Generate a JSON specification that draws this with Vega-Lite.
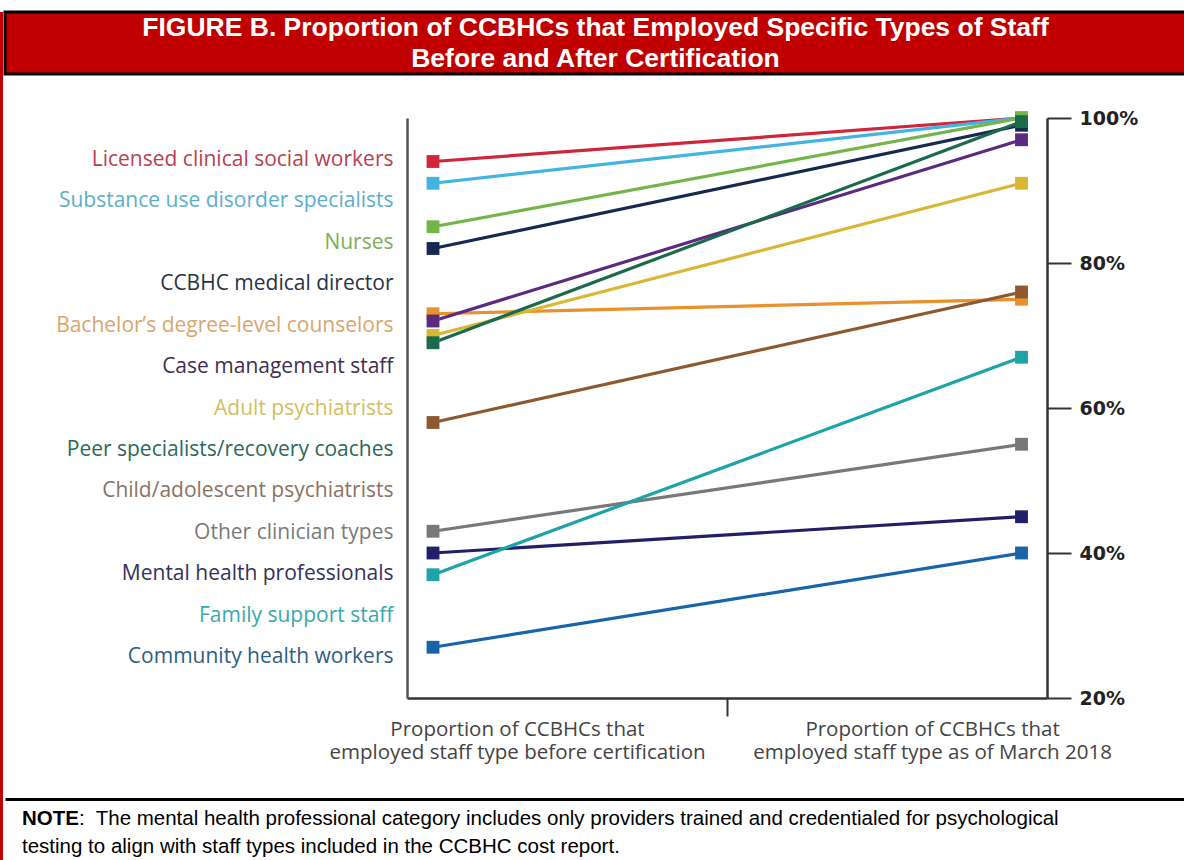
{
  "$schema": "https://vega.github.io/schema/vega-lite/v6.json",
  "padding": {"top": 10, "left": 0, "right": 0, "bottom": 0},
  "background": "white",
  "config": {"view": {"stroke": null}},
  "spacing": 0,
  "hconcat": [
    {
      "width": 3,
      "height": 850,
      "data": {"values": [{"k": 1}]},
      "mark": {"type": "rect", "color": "#C00000"},
      "encoding": {}
    },
    {
      "spacing": 33,
      "vconcat": [
        {
          "width": 1181,
          "height": 62,
          "view": {"fill": "#C00000", "stroke": "#000000", "strokeWidth": 3},
          "data": {"values": [
            {"line": 1, "text": "FIGURE B. Proportion of CCBHCs that Employed Specific Types of Staff"},
            {"line": 2, "text": "Before and After Certification"}
          ]},
          "mark": {"type": "text", "font": "Liberation Sans", "fontSize": 26.5, "fontWeight": "bold", "color": "#FFFFFF"},
          "encoding": {
            "y": {"field": "line", "type": "ordinal", "scale": {"type": "point", "padding": 0.5}, "axis": null},
            "text": {"field": "text"}
          }
        },
        {
          "spacing": 0,
          "hconcat": [
            {
              "width": 50,
              "height": 648,
              "data": {"values": [{"k": 1}]},
              "mark": {"type": "rect", "opacity": 0},
              "encoding": {}
            },
            {
              "width": 640,
              "height": 580,
              "data": {"values": [
                {"staff": "Licensed clinical social workers", "stage": 0, "pct": 94},
                {"staff": "Licensed clinical social workers", "stage": 1, "pct": 100},
                {"staff": "Substance use disorder specialists", "stage": 0, "pct": 91},
                {"staff": "Substance use disorder specialists", "stage": 1, "pct": 100},
                {"staff": "Nurses", "stage": 0, "pct": 85},
                {"staff": "Nurses", "stage": 1, "pct": 100},
                {"staff": "CCBHC medical director", "stage": 0, "pct": 82},
                {"staff": "CCBHC medical director", "stage": 1, "pct": 99},
                {"staff": "Bachelor’s degree-level counselors", "stage": 0, "pct": 73},
                {"staff": "Bachelor’s degree-level counselors", "stage": 1, "pct": 75},
                {"staff": "Case management staff", "stage": 0, "pct": 72},
                {"staff": "Case management staff", "stage": 1, "pct": 97},
                {"staff": "Adult psychiatrists", "stage": 0, "pct": 70},
                {"staff": "Adult psychiatrists", "stage": 1, "pct": 91},
                {"staff": "Peer specialists/recovery coaches", "stage": 0, "pct": 69},
                {"staff": "Peer specialists/recovery coaches", "stage": 1, "pct": 99.5},
                {"staff": "Child/adolescent psychiatrists", "stage": 0, "pct": 58},
                {"staff": "Child/adolescent psychiatrists", "stage": 1, "pct": 76},
                {"staff": "Other clinician types", "stage": 0, "pct": 43},
                {"staff": "Other clinician types", "stage": 1, "pct": 55},
                {"staff": "Mental health professionals", "stage": 0, "pct": 40},
                {"staff": "Mental health professionals", "stage": 1, "pct": 45},
                {"staff": "Family support staff", "stage": 0, "pct": 37},
                {"staff": "Family support staff", "stage": 1, "pct": 67},
                {"staff": "Community health workers", "stage": 0, "pct": 27},
                {"staff": "Community health workers", "stage": 1, "pct": 40}
              ]},
              "resolve": {
                "scale": {"y": "independent"},
                "axis": {"y": "independent", "x": "independent"}
              },
              "layer": [
                {
                  "mark": {"type": "point", "opacity": 0},
                  "encoding": {
                    "x": {
                      "field": "stage", "type": "quantitative",
                      "scale": {"domain": [-0.0442, 1.0433], "nice": false, "zero": false},
                      "axis": {
                        "orient": "bottom", "values": [0.1427, 0.848], "ticks": false, "domain": false,
                        "title": null, "grid": false, "labelOverlap": false, "labelLimit": 600,
                        "labelExpr": "datum.value < 0.5 ? 'employed staff type before certification' : 'employed staff type as of March 2018'",
                        "labelFont": "Open Sans", "labelFontSize": 20.5, "labelColor": "#444444",
                        "labelPadding": 44
                      }
                    },
                    "y": {
                      "field": "staff", "type": "nominal",
                      "scale": {"type": "point", "padding": 1.07, "domain": [
                        "Licensed clinical social workers", "Substance use disorder specialists", "Nurses",
                        "CCBHC medical director", "Bachelor’s degree-level counselors", "Case management staff",
                        "Adult psychiatrists", "Peer specialists/recovery coaches", "Child/adolescent psychiatrists",
                        "Other clinician types", "Mental health professionals", "Family support staff",
                        "Community health workers"]},
                      "axis": {
                        "orient": "left", "title": null,
                        "ticks": false, "grid": false,
                        "domain": true, "domainColor": "#555555", "domainWidth": 2.5,
                        "labelPadding": 14, "labelLimit": 600,
                        "labelFont": "Open Sans", "labelFontSize": 21,
                        "labelColor": {
                          "condition": [
                            {"test": "datum.value === 'Licensed clinical social workers'", "value": "#B8414F"},
                            {"test": "datum.value === 'Substance use disorder specialists'", "value": "#5BAFCB"},
                            {"test": "datum.value === 'Nurses'", "value": "#7DAE55"},
                            {"test": "datum.value === 'CCBHC medical director'", "value": "#283347"},
                            {"test": "datum.value === 'Bachelor’s degree-level counselors'", "value": "#D9A56E"},
                            {"test": "datum.value === 'Case management staff'", "value": "#3E2F50"},
                            {"test": "datum.value === 'Adult psychiatrists'", "value": "#D3BE60"},
                            {"test": "datum.value === 'Peer specialists/recovery coaches'", "value": "#2B6A58"},
                            {"test": "datum.value === 'Child/adolescent psychiatrists'", "value": "#8A7363"},
                            {"test": "datum.value === 'Other clinician types'", "value": "#7A7A7A"},
                            {"test": "datum.value === 'Mental health professionals'", "value": "#35315A"},
                            {"test": "datum.value === 'Family support staff'", "value": "#3AA8AC"}
                          ],
                          "value": "#2E5E82"
                        }
                      }
                    }
                  }
                },
                {
                  "mark": {"type": "line", "strokeWidth": 3.2},
                  "encoding": {
                    "x": {
                      "field": "stage", "type": "quantitative",
                      "scale": {"domain": [-0.0442, 1.0433], "nice": false, "zero": false},
                      "axis": {
                        "orient": "bottom", "values": [0.5], "labels": false, "title": null, "grid": false,
                        "ticks": true, "tickSize": 18, "tickWidth": 2, "tickColor": "#333333",
                        "domain": true, "domainColor": "#333333", "domainWidth": 2.5
                      }
                    },
                    "y": {
                      "field": "pct", "type": "quantitative",
                      "scale": {"domain": [20, 100], "nice": false, "zero": false},
                      "axis": {
                        "orient": "right", "values": [20, 40, 60, 80, 100], "labelExpr": "datum.value + '%'",
                        "title": null, "grid": false,
                        "labelFont": "DejaVu Sans", "labelFontWeight": "bold", "labelFontSize": 19, "labelColor": "#222222",
                        "labelPadding": 8, "labelFlush": false,
                        "tickSize": 24, "tickWidth": 2, "tickColor": "#333333",
                        "domainColor": "#333333", "domainWidth": 2.5
                      }
                    },
                    "color": {
                      "field": "staff", "type": "nominal", "legend": null,
                      "scale": {
                        "domain": [
                          "Licensed clinical social workers", "Substance use disorder specialists", "Nurses",
                          "CCBHC medical director", "Bachelor’s degree-level counselors", "Case management staff",
                          "Adult psychiatrists", "Peer specialists/recovery coaches", "Child/adolescent psychiatrists",
                          "Other clinician types", "Mental health professionals", "Family support staff",
                          "Community health workers"],
                        "range": ["#D0263A", "#42B4E2", "#74B54A", "#152A4E", "#E8922E", "#5C2A80", "#D8B734",
                                  "#196B4C", "#8C5A2E", "#787878", "#221F66", "#1CA4A6", "#1764A8"]
                      }
                    }
                  }
                },
                {
                  "mark": {"type": "square", "size": 165, "filled": true, "opacity": 1},
                  "encoding": {
                    "x": {
                      "field": "stage", "type": "quantitative",
                      "scale": {"domain": [-0.0442, 1.0433], "nice": false, "zero": false},
                      "axis": {
                        "orient": "bottom", "values": [0.1427, 0.848], "ticks": false, "domain": false,
                        "title": null, "grid": false, "labelOverlap": false, "labelLimit": 600,
                        "labelExpr": "'Proportion of CCBHCs that'",
                        "labelFont": "Open Sans", "labelFontSize": 20.5, "labelColor": "#444444",
                        "labelPadding": 21
                      }
                    },
                    "y": {
                      "field": "pct", "type": "quantitative",
                      "scale": {"domain": [20, 100], "nice": false, "zero": false},
                      "axis": null
                    },
                    "color": {"field": "staff", "type": "nominal", "legend": null}
                  }
                }
              ]
            }
          ]
        },
        {
          "width": 1181,
          "height": 57,
          "data": {"values": [
            {"head": "NOTE", "rest": ":\u00a0 The mental health professional category includes only providers trained and credentialed for psychological", "line2": "testing to align with staff types included in the CCBHC cost report."}
          ]},
          "encoding": {
            "x": {
              "datum": 0, "type": "quantitative", "scale": {"domain": [0, 1]},
              "axis": {"orient": "top", "domain": true, "domainColor": "#000000", "domainWidth": 3,
                       "ticks": false, "labels": false, "title": null, "grid": false}
            },
            "y": {"datum": 0, "type": "quantitative", "scale": {"domain": [0, 1], "reverse": true}, "axis": null}
          },
          "layer": [
            {
              "mark": {"type": "text", "font": "Liberation Sans", "fontSize": 20.5, "fontWeight": "bold", "align": "left",
                       "baseline": "middle", "dx": 17, "dy": 20, "color": "#000000"},
              "encoding": {"text": {"field": "head"}}
            },
            {
              "mark": {"type": "text", "font": "Liberation Sans", "fontSize": 20.5, "align": "left",
                       "baseline": "middle", "dx": 74, "dy": 20, "color": "#000000"},
              "encoding": {"text": {"field": "rest"}}
            },
            {
              "mark": {"type": "text", "font": "Liberation Sans", "fontSize": 20.5, "align": "left",
                       "baseline": "middle", "dx": 17, "dy": 48, "color": "#000000"},
              "encoding": {"text": {"field": "line2"}}
            }
          ]
        }
      ]
    }
  ]
}
